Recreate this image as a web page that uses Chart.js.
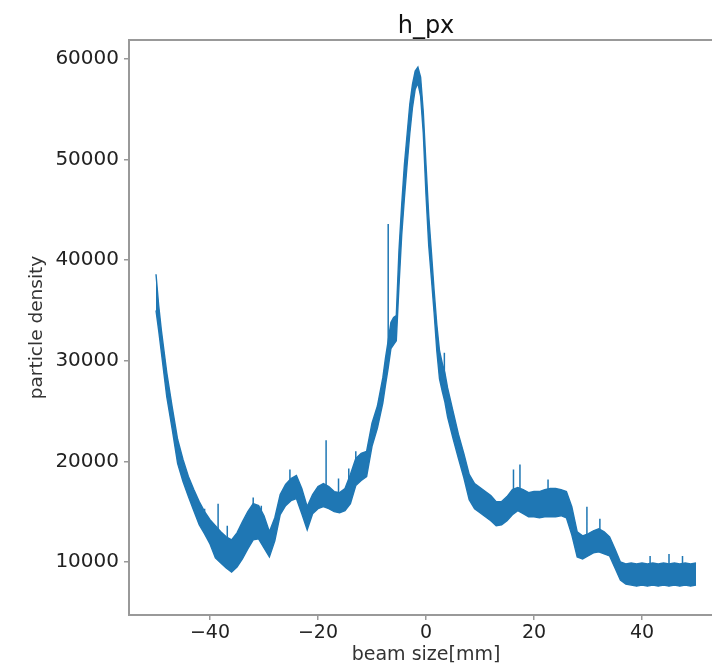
<!DOCTYPE html>
<html>
<head>
<meta charset="utf-8">
<script src="https://cdn.jsdelivr.net/npm/chart.js@4"></script>
<style>
  html, body { margin: 0; padding: 0; background: #ffffff; overflow: hidden; }
  #wrap { width: 712px; height: 666px; overflow: hidden; position: relative; }
  canvas { display: block; }
</style>
</head>
<body>
<div id="wrap"><canvas id="c" width="740" height="666"></canvas></div>
<script>
// ---- data ----
const chartTitle = "h_px";
const xAxisLabel = "beam size[mm]";
const yAxisLabel = "particle density";

// beam position (mm)
const xValues = [
  -50, -49.5, -49, -48, -47, -46, -45, -44, -43, -42, -41, -40, -39, -38, -37, -36, -35, -34, -33, -32, -31,
  -30, -29, -28, -27, -26, -25, -24, -23, -22, -21, -20, -19, -18, -17, -16, -15, -14, -13, -12, -11,
  -10, -9, -8, -7.5, -7, -6.5, -6, -5.5, -5, -4.5, -4, -3.5, -3, -2.5, -2, -1.5, -1, -0.5,
  0, 0.5, 1, 1.5, 2, 2.5, 3, 3.5, 4, 5, 6, 7, 8, 9, 10, 11, 12, 13, 14, 15, 16, 17, 18, 19,
  20, 21, 22, 23, 24, 25, 26, 27, 28, 29, 30, 31, 32, 33, 34, 35, 36, 37, 38, 39,
  40, 41, 42, 43, 44, 45, 46, 47, 48, 49, 50
];
// upper edge of the noisy histogram band
const upperValues = [
  38600, 35500, 33000, 28800, 25400, 22200, 20200, 18500, 17200, 16000, 15000, 14200, 13600, 13000, 12500, 12200, 12900, 14000, 15000, 15800, 15600,
  14600, 13000, 14400, 16700, 17700, 18300, 18600, 17300, 15500, 16700, 17500, 17800, 17500, 17000, 16900, 17300, 18700, 20300, 20800, 21000,
  23800, 25500, 28300, 30300, 32000, 33800, 34300, 34500, 41000, 45500, 49500, 52500, 55500, 57500, 58800, 59200, 58200, 54700,
  49500, 44500, 40800, 37000, 33600, 31000, 29800, 28800, 27300, 25000, 22700, 20800, 18700, 17800, 17400, 17000, 16600, 16000, 16000, 16500, 17200, 17400, 17200, 16900,
  17000, 17000, 17200, 17300, 17300, 17200, 17000, 15500, 13000, 12600, 12800, 13100, 13300, 13000, 12500, 11300, 10000, 9800, 9900, 9800,
  9900, 9800, 9900, 9800, 9900, 9800, 9900, 9800, 9900, 9800, 9900
];
// lower edge of the noisy histogram band
const lowerValues = [
  35000, 33000, 30800, 26400, 23200, 19800, 18000, 16500, 15100, 13700, 12800, 11800, 10400, 9900, 9400, 9000, 9500, 10300, 11300, 12200, 12300,
  11400, 10500, 12100, 14700, 15600, 16100, 16300, 14800, 13200, 14800, 15300, 15500, 15300, 15000, 14900, 15100, 15800, 17600, 18100, 18500,
  21500, 23300, 25800, 27600, 29300, 31200, 31600, 32000, 37500, 42500, 46200, 49500, 52600, 55200, 57000, 57600, 56300, 52600,
  46500, 41500, 38200, 34800, 31000, 28200, 27000, 25900, 24400, 22300, 20300, 18400, 16200, 15300, 14900, 14500, 14100, 13600, 13700, 14100, 14700, 15100, 14800, 14500,
  14500, 14400, 14500, 14500, 14500, 14600, 14400, 12700, 10500, 10300, 10600, 10900, 11000, 10800, 10600, 9400, 8200, 7800, 7700, 7600,
  7700, 7600, 7700, 7600, 7700, 7600, 7700, 7600, 7700, 7600, 7700
];
// isolated single-bin spikes
const spikeX    = [-41, -38.5, -36.8, -32, -30.5, -25.2, -18.5, -16.2, -14.3, -13, -7.0, 3.4, 16.2, 17.4, 22.6, 29.8, 32.2, 41.5, 45, 47.5];
const spikeBase = [13500, 12000, 11000, 14000, 13500, 16500, 16500, 16000, 17000, 19000, 30500, 27000, 16000, 16500, 16000, 12000, 12000, 9000, 9000, 9000];
const spikeTop  = [15300, 15800, 13600, 16400, 15600, 19200, 22100, 18300, 19300, 21000, 43600, 30800, 19200, 19700, 18200, 15500, 14300, 10600, 10800, 10600];

const xTickValues = [-40, -20, 0, 20, 40];
const yTickValues = [10000, 20000, 30000, 40000, 50000, 60000];

// ---- build chart ----
const lineColor = "#1f77b4";
const upperData = xValues.map((x, i) => ({ x: x, y: upperValues[i] }));
const lowerData = xValues.map((x, i) => ({ x: x, y: lowerValues[i] }));
const spikeData = [];
spikeX.forEach((x, i) => {
  spikeData.push({ x: x, y: spikeBase[i] });
  spikeData.push({ x: x, y: spikeTop[i] });
  spikeData.push({ x: x, y: null });
});

const framePlugin = {
  id: "frame",
  afterDraw(chart) {
    const { ctx, chartArea: a } = chart;
    ctx.save();
    ctx.strokeStyle = "#999999";
    ctx.lineWidth = 2;
    ctx.strokeRect(a.left, a.top, a.right - a.left, a.bottom - a.top);
    ctx.fillStyle = "#111111";
    ctx.font = "24px 'DejaVu Sans'";
    ctx.textAlign = "center";
    ctx.textBaseline = "alphabetic";
    ctx.fillText(chartTitle, (a.left + a.right) / 2, 33);
    ctx.restore();
  }
};

new Chart(document.getElementById("c"), {
  type: "line",
  data: {
    datasets: [
      { data: upperData, borderColor: lineColor, borderWidth: 1.4, pointRadius: 0, fill: false, tension: 0 },
      { data: lowerData, borderColor: lineColor, borderWidth: 1.4, pointRadius: 0, fill: "-1", backgroundColor: lineColor, tension: 0 },
      { data: spikeData, borderColor: lineColor, borderWidth: 1.5, pointRadius: 0, fill: false, spanGaps: false, tension: 0 }
    ]
  },
  options: {
    responsive: false,
    animation: false,
    devicePixelRatio: 1,
    layout: { padding: { top: 40, left: 0, right: 17, bottom: 0 } },
    plugins: { legend: { display: false }, tooltip: { enabled: false }, title: { display: false } },
    scales: {
      x: {
        type: "linear",
        min: -55, max: 55,
        afterBuildTicks: (s) => { s.ticks = xTickValues.map(v => ({ value: v })); },
        afterFit: (s) => { s.height = 51; },
        grid: { drawOnChartArea: false, drawTicks: true, tickLength: 5, color: "#999999", lineWidth: 1.5 },
        border: { display: false },
        ticks: { font: { family: "DejaVu Sans", size: 19 }, color: "#222222", padding: 2, maxRotation: 0,
                 callback: (v) => (v < 0 ? "\u2212" + Math.abs(v) : String(v)) },
        title: { display: true, text: xAxisLabel, font: { family: "DejaVu Sans", size: 19 }, color: "#333333", padding: { top: 0, bottom: 0 } }
      },
      y: {
        type: "linear",
        min: 4730, max: 61890,
        afterBuildTicks: (s) => { s.ticks = yTickValues.map(v => ({ value: v })); },
        afterFit: (s) => { s.width = 129; },
        grid: { drawOnChartArea: false, drawTicks: true, tickLength: 5, color: "#999999", lineWidth: 1.5 },
        border: { display: false },
        ticks: { font: { family: "DejaVu Sans", size: 20 }, color: "#222222", padding: 5, callback: (v) => String(v) },
        title: { display: true, text: yAxisLabel, font: { family: "DejaVu Sans", size: 18.5 }, color: "#333333", padding: { top: 26, bottom: 0 } }
      }
    }
  },
  plugins: [framePlugin]
});
</script>
</body>
</html>
